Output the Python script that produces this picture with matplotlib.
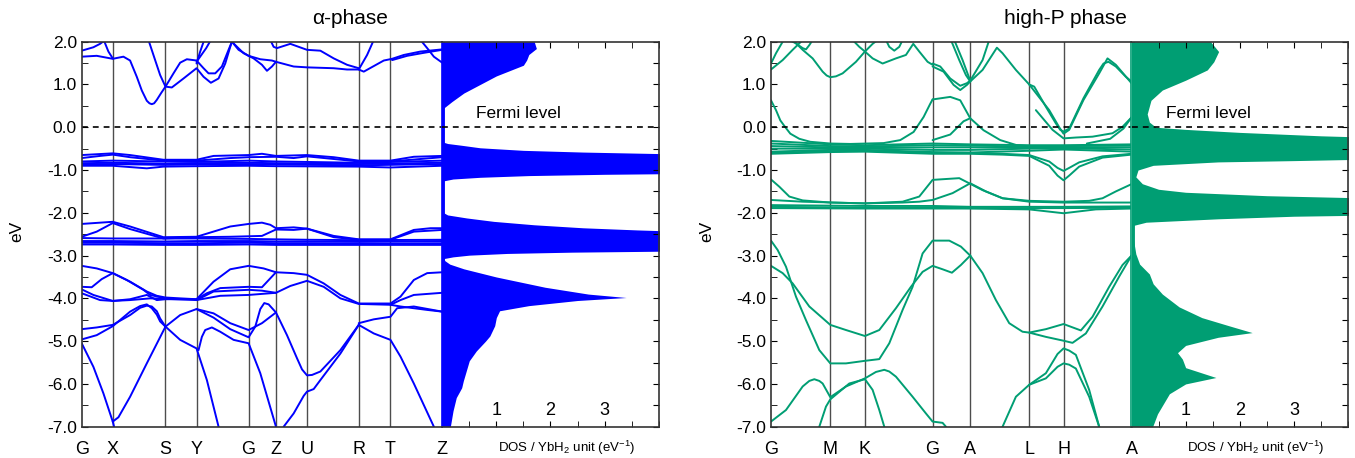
import matplotlib
matplotlib.use("Agg")
import matplotlib.pyplot as plt
from matplotlib.ticker import MultipleLocator, FormatStrFormatter

plt.rcParams['font.family'] = ['Liberation Sans', 'DejaVu Sans']
plt.rcParams['axes.unicode_minus'] = False
plt.rcParams['mathtext.fontset'] = 'custom'
plt.rcParams['mathtext.rm'] = 'Liberation Sans'
plt.rcParams['mathtext.it'] = 'Liberation Sans:italic'

# ---- alpha phase: k-path (arbitrary distance units) ----
alpha_kpos = [5, 98, 256, 349, 505, 587, 680, 835, 930, 1085]
alpha_klabels = ['G', 'X', 'S', 'Y', 'G', 'Z', 'U', 'R', 'T', 'Z']

# each band: (k, E in eV)
alpha_bands = [
    # conduction
    ([5, 40, 60, 72, 85, 98], [1.79, 1.87, 1.95, 2.02, 1.77, 1.61]),
    ([5, 50, 98, 130, 150, 170, 185, 200, 208, 215, 222, 230, 243, 256, 275, 310, 349, 370, 392, 415, 435, 450, 455],
     [1.65, 1.67, 1.60, 1.65, 1.56, 1.18, 0.86, 0.62, 0.56, 0.54, 0.56, 0.64, 0.80, 0.95, 0.93, 1.14, 1.38, 1.18, 1.04, 1.14, 1.49, 1.88, 2.0]),
    ([205, 225, 240, 256, 280, 300, 320, 349, 370, 385, 405, 425, 445, 455],
     [2.04, 1.57, 1.22, 0.95, 1.26, 1.51, 1.59, 1.56, 1.38, 1.26, 1.26, 1.42, 1.81, 2.0]),
    ([349, 360, 372], [1.49, 1.77, 2.04]),
    ([349, 378, 392], [1.53, 1.85, 2.04]),
    ([455, 475, 505, 540, 575, 587], [2.0, 1.81, 1.67, 1.59, 1.56, 1.53]),
    ([460, 490, 520, 545, 560, 575, 587], [1.96, 1.73, 1.61, 1.46, 1.32, 1.42, 1.53]),
    ([570, 580, 590, 630, 680, 720, 760, 800, 835], [2.04, 1.88, 1.85, 1.95, 1.81, 1.79, 1.61, 1.46, 1.38]),
    ([587, 640, 680, 760, 800, 835, 850, 880, 910, 935, 970, 1020, 1085],
     [1.53, 1.42, 1.40, 1.38, 1.35, 1.35, 1.30, 1.43, 1.56, 1.60, 1.69, 1.77, 1.82]),
    ([835, 860, 880], [1.35, 1.69, 2.04]),
    ([935, 980, 1030, 1085], [1.57, 1.67, 1.74, 1.81]),
    ([1020, 1040, 1060, 1085], [2.04, 1.85, 1.65, 1.51]),
    # flat bundle near -0.8 eV
    ([5, 98, 150, 250, 349, 400, 505, 545, 587, 680, 760, 835, 930, 1000, 1085],
     [-0.65, -0.61, -0.65, -0.76, -0.76, -0.67, -0.65, -0.62, -0.67, -0.65, -0.70, -0.78, -0.78, -0.69, -0.67]),
    ([5, 60, 98, 150, 250, 349, 450, 505, 587, 640, 680, 835, 930, 1085],
     [-0.72, -0.67, -0.64, -0.70, -0.78, -0.78, -0.72, -0.70, -0.69, -0.72, -0.68, -0.80, -0.80, -0.70]),
    ([5, 98, 250, 349, 505, 587, 835, 1085], [-0.80, -0.78, -0.80, -0.81, -0.78, -0.80, -0.83, -0.78]),
    ([5, 98, 250, 349, 505, 587, 835, 1085], [-0.84, -0.83, -0.85, -0.84, -0.83, -0.84, -0.86, -0.83]),
    ([5, 98, 250, 349, 505, 587, 835, 1085], [-0.87, -0.86, -0.88, -0.87, -0.86, -0.87, -0.89, -0.86]),
    ([5, 98, 200, 250, 349, 505, 587, 835, 930, 1085],
     [-0.90, -0.90, -0.96, -0.92, -0.91, -0.90, -0.91, -0.92, -0.94, -0.90]),
    # flat bundle near -2.6 eV
    ([5, 98, 150, 250, 349, 450, 505, 545, 570, 587, 640, 680, 760, 835, 930, 1000, 1050, 1085],
     [-2.26, -2.21, -2.32, -2.57, -2.56, -2.32, -2.26, -2.23, -2.28, -2.36, -2.34, -2.37, -2.54, -2.62, -2.62, -2.40, -2.36, -2.36]),
    ([5, 50, 98, 150, 250, 349, 450, 545, 587, 640, 680, 760, 835, 930, 1000, 1085],
     [-2.56, -2.44, -2.24, -2.38, -2.60, -2.57, -2.56, -2.54, -2.39, -2.40, -2.37, -2.57, -2.63, -2.63, -2.44, -2.40]),
    ([5, 98, 250, 349, 505, 587, 680, 835, 1085], [-2.59, -2.60, -2.60, -2.60, -2.61, -2.62, -2.63, -2.64, -2.63]),
    ([5, 98, 250, 349, 505, 587, 680, 835, 1085], [-2.66, -2.66, -2.67, -2.66, -2.66, -2.67, -2.67, -2.68, -2.66]),
    ([5, 98, 250, 349, 505, 587, 680, 835, 1085], [-2.70, -2.70, -2.71, -2.71, -2.70, -2.71, -2.71, -2.72, -2.71]),
    ([5, 98, 250, 349, 505, 587, 680, 835, 1085], [-2.74, -2.74, -2.75, -2.75, -2.74, -2.75, -2.75, -2.75, -2.75]),
    # valence
    ([5, 50, 98, 150, 200, 230, 256, 300, 349, 400, 450, 505, 550, 587, 640, 680, 730, 780, 835, 880, 930, 960, 1000, 1040, 1085],
     [-3.24, -3.30, -3.41, -3.61, -3.84, -3.94, -3.98, -4.0, -4.02, -3.61, -3.32, -3.24, -3.30, -3.39, -3.41, -3.45, -3.65, -3.92, -4.12, -4.12, -4.12, -3.96, -3.57, -3.41, -3.39]),
    ([5, 35, 65, 98, 140, 190, 210, 256], [-3.73, -3.74, -3.55, -3.41, -3.57, -3.80, -3.92, -4.0]),
    ([5, 40, 98, 150, 200, 230, 256, 349, 380, 420, 505, 545, 587],
     [-3.79, -3.92, -4.06, -4.02, -3.92, -4.04, -4.02, -4.02, -3.88, -3.76, -3.73, -3.74, -3.39]),
    ([5, 60, 98, 150, 210, 256, 349, 420, 505, 587, 630, 680, 730, 780, 835, 930, 960, 1000, 1085],
     [-3.88, -4.04, -4.06, -4.04, -4.0, -4.01, -4.04, -3.94, -3.92, -3.87, -3.71, -3.59, -3.73, -4.0, -4.13, -4.15, -4.04, -3.92, -3.87]),
    ([349, 400, 505, 545, 587], [-4.04, -3.84, -3.80, -3.82, -3.87]),
    ([930, 960, 1000, 1040, 1085], [-4.15, -4.19, -4.23, -4.27, -4.31]),
    ([5, 50, 98, 150, 180, 200, 215, 230, 240, 256, 300, 349, 380, 415],
     [-4.72, -4.68, -4.62, -4.39, -4.22, -4.17, -4.19, -4.30, -4.47, -4.66, -4.97, -5.17, -5.91, -7.0]),
    ([5, 50, 98, 150, 180, 200, 215, 230, 240, 256], [-4.96, -4.86, -4.65, -4.31, -4.18, -4.14, -4.23, -4.38, -4.54, -4.66]),
    ([256, 300, 349, 400, 450, 505, 545, 587], [-4.66, -4.39, -4.25, -4.35, -4.58, -4.74, -4.58, -4.33]),
    ([349, 400, 450, 505, 525, 540, 552, 565, 587, 620, 650, 665, 680, 695, 720, 780, 835],
     [-4.25, -4.45, -4.72, -4.91, -4.66, -4.25, -4.11, -4.14, -4.33, -4.86, -5.40, -5.66, -5.80, -5.79, -5.71, -5.21, -4.62]),
    ([355, 365, 375, 395, 420, 460, 505, 540, 587], [-5.21, -4.90, -4.74, -4.68, -4.78, -4.97, -5.05, -5.75, -7.0]),
    ([5, 40, 70, 98, 102], [-5.05, -5.6, -6.22, -6.88, -7.0]),
    ([98, 115, 150, 200, 256], [-6.88, -6.78, -6.30, -5.52, -4.66]),
    ([610, 640, 670, 680, 700, 720, 780, 835], [-7.0, -6.69, -6.28, -6.18, -6.12, -5.91, -5.29, -4.62]),
    ([835, 880, 930, 950, 1000, 1085], [-4.58, -4.49, -4.43, -4.23, -4.19, -4.31]),
    ([835, 880, 930, 960, 1000, 1060], [-4.62, -4.82, -4.97, -5.36, -5.99, -7.0]),
]

alpha_dos_e = [2.0, 1.84, 1.70, 1.57, 1.45, 1.35, 1.2, 1.0, 0.8, 0.6, 0.45, 0.38,
               -0.34, -0.38, -0.42, -0.48, -0.54, -0.58, -0.61, -0.63,
               -1.08, -1.10, -1.13, -1.17, -1.21, -1.26,
               -1.98, -2.05, -2.12, -2.2, -2.28, -2.35, -2.40, -2.44,
               -2.89, -2.92, -2.95, -2.99, -3.03, -3.07, -3.12, -3.2, -3.31, -3.5, -3.74, -3.9, -3.98,
               -4.05, -4.17, -4.29, -4.45, -4.64, -4.88, -5.0, -5.23, -5.46, -5.93, -6.09, -6.32, -6.63, -7.0]
alpha_dos = [1.70, 1.74, 1.60, 1.56, 1.50, 1.30, 1.0, 0.7, 0.4, 0.18, 0.03, 0.0,
             0.0, 0.1, 0.35, 0.7, 1.5, 2.6, 3.8, 4.6,
             4.6, 3.0, 1.6, 0.7, 0.2, 0.0,
             0.0, 0.1, 0.45, 0.95, 1.7, 2.6, 3.6, 4.6,
             4.6, 2.4, 1.2, 0.5, 0.2, 0.03, 0.05, 0.14, 0.4, 1.0, 1.9, 2.7, 3.4,
             2.5, 1.6, 1.06, 1.0, 0.97, 0.88, 0.8, 0.63, 0.5, 0.39, 0.36, 0.26, 0.2, 0.15]

# ---- high-P phase ----
highp_kpos = [5, 183, 287, 490, 603, 780, 883, 1087]
highp_klabels = ['G', 'M', 'K', 'G', 'A', 'L', 'H', 'A']

highp_bands = [
    # conduction
    ([5, 40, 70, 95], [1.35, 1.57, 1.81, 2.0]),
    ([5, 20, 40], [1.49, 1.73, 2.0]),
    ([60, 80, 100, 110, 120, 130], [2.04, 1.96, 1.85, 1.82, 1.92, 2.04]),
    ([70, 100, 130, 160, 172, 183, 200, 220, 260, 287, 310, 325],
     [2.04, 1.81, 1.61, 1.30, 1.21, 1.17, 1.19, 1.26, 1.53, 1.77, 1.95, 2.04]),
    ([250, 270, 287, 310, 340, 380, 410, 432, 450, 475, 490],
     [2.04, 1.88, 1.77, 1.61, 1.49, 1.61, 1.69, 1.95, 1.77, 1.53, 1.46]),
    ([350, 360, 375, 390, 400], [2.04, 1.88, 1.79, 1.88, 2.04]),
    ([490, 513, 543, 573, 593, 603, 640, 660], [1.49, 1.42, 1.14, 0.97, 1.03, 1.09, 1.57, 2.04]),
    ([490, 523, 553, 573, 593, 603, 640, 683, 700, 740, 780, 795, 830, 860, 873, 883, 900, 943, 990, 1003, 1018, 1040, 1070, 1087],
     [1.42, 1.30, 0.99, 0.87, 0.99, 1.07, 1.34, 1.86, 1.73, 1.34, 1.0, 0.95, 0.48, 0.09, -0.06, -0.10, -0.03, 0.68, 1.34, 1.49, 1.53, 1.42, 1.18, 1.07]),
    ([545, 570, 590, 603], [2.04, 1.57, 1.22, 1.07]),
    ([555, 580, 600, 603], [2.04, 1.57, 1.15, 1.07]),
    ([780, 840, 870, 883, 900, 943, 990, 1015, 1040, 1087], [1.0, 0.40, 0.0, -0.15, -0.06, 0.64, 1.26, 1.61, 1.46, 1.03]),
    ([800, 850, 883, 920, 970, 1030, 1060, 1087], [0.40, -0.06, -0.26, -0.24, -0.22, -0.14, 0.01, 0.23]),
    ([5, 20, 33, 48, 63, 90, 123, 183, 243, 343, 393, 433, 463, 483, 490],
     [0.63, 0.40, 0.16, 0.0, -0.15, -0.27, -0.34, -0.38, -0.39, -0.37, -0.30, -0.11, 0.24, 0.55, 0.65]),
    ([490, 543, 573, 603, 643, 693, 743, 793], [0.65, 0.71, 0.63, 0.21, -0.07, -0.30, -0.42, -0.45]),
    ([490, 543, 583, 603], [-0.30, -0.17, 0.14, 0.21]),
    ([953, 1023, 1063, 1087], [-0.38, -0.27, -0.03, 0.23]),
    # bundle near -0.5 eV
    ([5, 183, 287, 490, 603, 780, 883, 1087], [-0.32, -0.40, -0.42, -0.38, -0.40, -0.42, -0.42, -0.40]),
    ([5, 183, 287, 490, 603, 780, 883, 1087], [-0.38, -0.44, -0.45, -0.42, -0.43, -0.45, -0.44, -0.43]),
    ([5, 183, 287, 490, 603, 780, 883, 1087], [-0.44, -0.47, -0.48, -0.47, -0.47, -0.48, -0.47, -0.47]),
    ([5, 183, 287, 490, 603, 780, 883, 1087], [-0.50, -0.50, -0.50, -0.53, -0.53, -0.50, -0.49, -0.52]),
    ([5, 183, 287, 490, 603, 780, 883, 1087], [-0.57, -0.53, -0.53, -0.58, -0.59, -0.55, -0.52, -0.57]),
    ([5, 183, 287, 490, 603, 700, 780, 840, 865, 883, 900, 930, 1000, 1087],
     [-0.60, -0.56, -0.55, -0.60, -0.60, -0.62, -0.65, -0.80, -0.95, -1.02, -0.95, -0.82, -0.68, -0.62]),
    ([5, 183, 287, 490, 603, 700, 780, 840, 865, 883, 900, 930, 1000, 1087],
     [-0.62, -0.58, -0.57, -0.62, -0.62, -0.64, -0.67, -0.90, -1.13, -1.24, -1.13, -0.92, -0.71, -0.64]),
    # bundle near -1.8 eV
    ([5, 30, 60, 100, 183, 287, 400, 450, 490, 570, 640, 700, 780, 883, 960, 1000, 1040, 1087],
     [-1.22, -1.39, -1.62, -1.71, -1.76, -1.78, -1.74, -1.62, -1.23, -1.19, -1.47, -1.66, -1.72, -1.74, -1.72, -1.66, -1.50, -1.33]),
    ([5, 100, 287, 400, 450, 490, 550, 603, 650, 700, 780, 883, 1087],
     [-1.70, -1.74, -1.78, -1.76, -1.74, -1.70, -1.54, -1.31, -1.50, -1.66, -1.74, -1.76, -1.76]),
    ([5, 287, 490, 603, 883, 1087], [-1.82, -1.84, -1.84, -1.86, -1.86, -1.85]),
    ([5, 287, 490, 603, 883, 1087], [-1.86, -1.88, -1.88, -1.89, -1.89, -1.88]),
    ([5, 287, 490, 603, 780, 883, 980, 1087], [-1.89, -1.90, -1.90, -1.90, -1.92, -2.01, -1.92, -1.90]),
    # valence
    ([5, 40, 70, 120, 183, 230, 287, 330, 380, 425, 460, 490, 520, 548, 575, 603],
     [-3.24, -3.41, -3.65, -4.19, -4.62, -4.74, -4.88, -4.74, -4.23, -3.73, -3.38, -3.24, -3.32, -3.40, -3.22, -3.0]),
    ([5, 25, 50, 80, 110, 150, 183, 230, 287, 330, 360, 400, 430, 460, 490, 540, 575, 603],
     [-2.65, -2.87, -3.26, -3.96, -4.51, -5.21, -5.52, -5.52, -5.46, -5.42, -5.05, -4.27, -3.73, -2.95, -2.65, -2.65, -2.79, -3.0]),
    ([603, 640, 680, 720, 760, 780, 830, 883, 935, 970, 1020, 1060, 1087],
     [-3.0, -3.41, -4.04, -4.58, -4.78, -4.80, -4.72, -4.60, -4.75, -4.43, -3.73, -3.22, -3.0]),
    ([780, 830, 883, 910, 950, 1000, 1050, 1087], [-4.80, -4.90, -4.99, -5.04, -4.82, -4.19, -3.49, -3.0]),
    ([5, 50, 100, 120, 135, 150, 160, 183, 230, 287, 320, 345, 360, 380, 430, 470, 490, 520, 530],
     [-6.88, -6.61, -6.06, -5.93, -5.89, -5.93, -5.99, -6.31, -6.06, -5.87, -5.72, -5.67, -5.71, -5.83, -6.30, -6.69, -6.88, -6.91, -7.0]),
    ([150, 170, 183, 240, 287, 310, 330, 345], [-7.0, -6.53, -6.36, -5.99, -5.89, -6.14, -6.61, -7.0]),
    ([700, 740, 780, 830, 865, 883, 900, 920, 960, 990], [-7.0, -6.30, -6.02, -5.75, -5.30, -5.17, -5.22, -5.32, -6.14, -7.0]),
    ([780, 830, 865, 883, 900, 920, 960, 990], [-6.02, -5.87, -5.60, -5.52, -5.55, -5.64, -6.30, -7.0]),
]

highp_dos_e = [2.0, 1.77, 1.53, 1.34, 1.1, 0.87, 0.63, 0.31, 0.12, 0.0, -0.05, -0.12, -0.2, -0.24,
               -0.74, -0.78, -0.81, -0.89, -1.0, -1.16, -1.32, -1.45, -1.52, -1.6, -1.66,
               -2.05, -2.08, -2.14, -2.22, -2.3, -2.5, -2.96, -3.2, -3.43, -3.66, -3.9, -4.2, -4.45,
               -4.64, -4.8, -4.91, -5.1, -5.27, -5.42, -5.62, -5.85, -6.0, -6.23, -6.7, -7.0]
highp_dos = [1.46, 1.61, 1.52, 1.40, 1.0, 0.57, 0.36, 0.29, 0.33, 0.45, 1.0, 2.0, 3.5, 4.6,
             4.6, 3.0, 1.6, 0.4, 0.12, 0.08, 0.2, 0.5, 1.0, 2.5, 4.6,
             4.6, 3.0, 1.6, 0.27, 0.02, 0.02, 0.08, 0.15, 0.33, 0.4, 0.57, 0.88, 1.3,
             1.8, 2.23, 1.6, 1.0, 0.85, 0.94, 1.0, 1.56, 1.0, 0.7, 0.48, 0.39]

W, H = 1355, 458


def draw_panel(fig, x0, title, title_x, color, kpos, klabels, bands, dos_e, dos_v):
    bottom, height = (H - 426.7) / H, 385 / H
    ax = fig.add_axes([x0 / W, bottom, 360.5 / W, height])
    axd = fig.add_axes([(x0 + 360.5) / W, bottom, 216.5 / W, height])

    for k, e in bands:
        ax.plot(k, e, color=color, lw=1.4, solid_capstyle='round', solid_joinstyle='round')
    for kp in kpos[1:-1]:
        ax.axvline(kp, color='#4d4d4d', lw=1.0, zorder=0)
    ax.axhline(0, color='k', lw=1.2, ls=(0, (3.5, 3)))
    ax.set_xlim(kpos[0], kpos[-1])
    ax.set_ylim(-7, 2)
    ax.set_xticks(kpos)
    ax.set_xticklabels(klabels, fontsize=13)
    ax.tick_params(axis='x', length=0, pad=10)
    ax.yaxis.set_major_locator(MultipleLocator(1))
    ax.yaxis.set_minor_locator(MultipleLocator(0.5))
    ax.yaxis.set_major_formatter(FormatStrFormatter('%.1f'))
    ax.tick_params(axis='y', which='both', direction='in', length=4, labelsize=12.5, right=False)
    ax.set_ylabel('eV', fontsize=12.5)
    ax.yaxis.set_label_coords(-0.158, 0.508)
    for s in ax.spines.values():
        s.set_color('#333333')
        s.set_linewidth(1.2)
    ax.spines['right'].set_color(color)

    axd.fill_betweenx(dos_e, 0, dos_v, color=color, lw=0)
    axd.axvline(0, color=color, lw=3.5)
    axd.axhline(0, color='k', lw=1.2, ls=(0, (3.5, 3)))
    axd.set_xlim(0, 4)
    axd.set_ylim(-7, 2)
    axd.xaxis.set_minor_locator(MultipleLocator(0.5))
    axd.set_xticks([1, 2, 3])
    axd.yaxis.set_major_locator(MultipleLocator(0.5))
    axd.tick_params(axis='x', which='both', direction='in', length=4, top=True, labelsize=13, pad=-18)
    axd.tick_params(axis='y', which='both', direction='in', length=4, left=False, right=True,
                    labelleft=False)
    axd.set_xlabel('DOS / YbH$_2$ unit (eV$^{-1}$)', fontsize=9.5)
    axd.xaxis.set_label_coords(0.575, -0.032)
    axd.text(0.63, 0.33, 'Fermi level', fontsize=12.5, va='center', ha='left')
    for s in axd.spines.values():
        s.set_color('#333333')
        s.set_linewidth(1.2)
    axd.spines['left'].set_visible(False)

    fig.text(title_x / W, 1 - 19 / H, title, fontsize=15, ha='center', va='center')


fig = plt.figure(figsize=(W / 100, H / 100), dpi=100)
draw_panel(fig, 81.7, '\u03b1-phase', 350, '#0000ff',
           alpha_kpos, alpha_klabels, alpha_bands, alpha_dos_e, alpha_dos)
draw_panel(fig, 771, 'high-P phase', 1065, '#009e73',
           highp_kpos, highp_klabels, highp_bands, highp_dos_e, highp_dos)
fig.savefig('out.png', dpi=100)
